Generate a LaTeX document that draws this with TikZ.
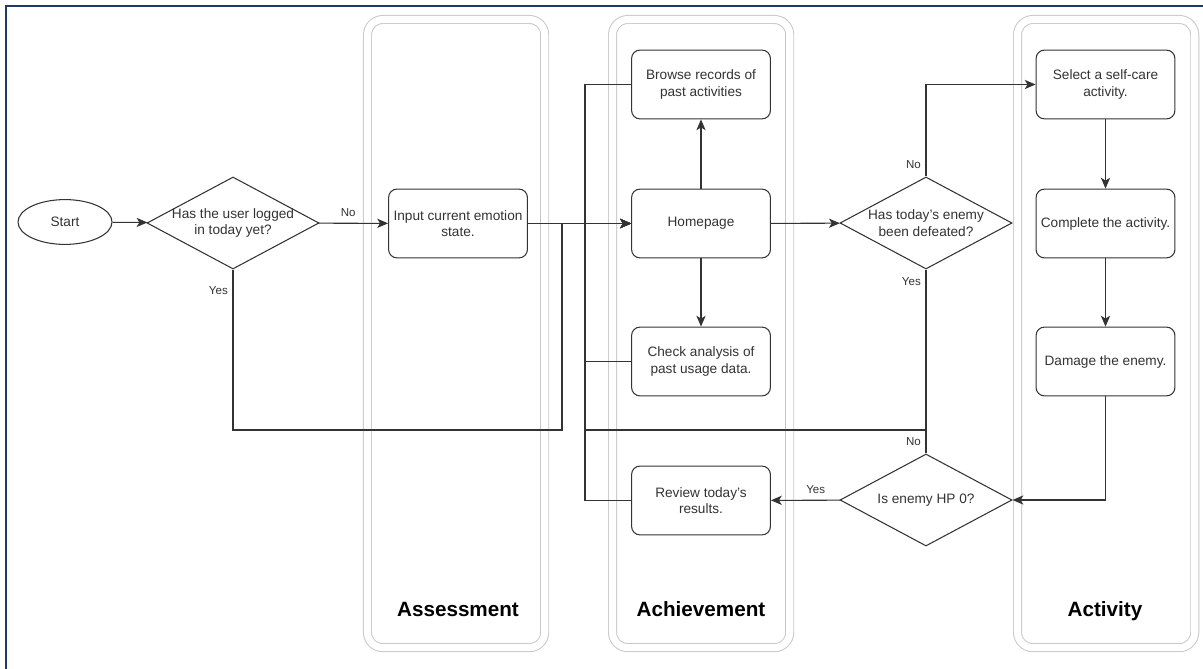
\documentclass[tikz,border=0pt]{standalone}
\usepackage{fontspec}
\setmainfont{Liberation Sans}
\usepackage{tikz}
\usetikzlibrary{arrows.meta,positioning,shapes.geometric}
\definecolor{ink}{HTML}{333333}
\definecolor{navy}{HTML}{203864}
\definecolor{lanegray}{HTML}{C8C8C8}
\tikzset{
  proc/.style={rounded corners=6pt, draw=ink, line width=0.75pt, fill=white, minimum width=3.47cm, minimum height=1.72cm, inner sep=2pt, font=\fontsize{9.7}{11.8}\selectfont, text=ink, align=center},
  terminal/.style={ellipse, draw=ink, line width=0.75pt, fill=white, minimum width=2.35cm, minimum height=1.12cm, inner sep=0pt, font=\fontsize{9.7}{11.8}\selectfont, text=ink},
  decision/.style={diamond, draw=ink, line width=0.75pt, fill=white, minimum width=4.3cm, minimum height=2.3cm, inner sep=0pt},
  dtext/.style={font=\fontsize{9.7}{11.8}\selectfont, text=ink, align=center, inner sep=0pt},
  lane/.style={rounded corners=11pt, draw=lanegray, double=white, double distance=5pt, line width=0.7pt, minimum width=4.43cm, minimum height=15.7cm, anchor=north west},
  lanetitle/.style={font=\fontsize{14.7}{17}\selectfont\bfseries, text=black, anchor=base},
  flow/.style={-{Stealth[length=2.7mm,width=2.3mm,inset=0.7mm]}, line width=0.75pt, draw=ink},
  tag/.style={font=\fontsize{8.2}{9.5}\selectfont, text=ink},
}

\begin{document}
\begin{tikzpicture}[x=0.025cm,y=-0.025cm]
  \useasboundingbox (0,0) rectangle (1203,669);
  \clip (0,0) rectangle (1203,669);
  \fill[white] (0,0) rectangle (1203,669);
  % frame
  \draw[navy, line width=1.8pt] (6,6) rectangle (1230,700);
  % lanes
  \node[lane] (asm) at (367,19) {};
  \node[lane] (ach) at (612,19) {};
  \node[lane] (act) at (1017,19) {};
  \node[lanetitle] (asmt) at (458,616) {Assessment};
  \node[lanetitle] (acht) at (701,616) {Achievement};
  \node[lanetitle] (actt) at (1105,616) {Activity};
  % start + login check
  \node[terminal] (start) at (65,222) {Start};
  \node[decision, label={[dtext]center:Has the user logged\\in today yet?}] (d1) at (233,223) {};
  % assessment
  \node[proc] (input) at (458,223.5) {Input current emotion\\state.};
  % achievement
  \node[proc] (browse) at (701,84.5) {Browse records of\\past activities};
  \node[proc] (home) at (701,223.5) {Homepage};
  \node[proc] (check) at (701,361.5) {Check analysis of\\past usage data.};
  \node[proc] (review) at (701,500.5) {Review today's\\results.};
  % decisions
  \node[decision, label={[dtext]center:Has today's enemy\\been defeated?}] (d2) at (926,223) {};
  \node[decision, label={[dtext]center:Is enemy HP 0?}] (d3) at (926,500) {};
  % activity
  \node[proc] (select) at (1105.5,84.5) {Select a self-care\\activity.};
  \node[proc] (complete) at (1105.5,223.5) {Complete the activity.};
  \node[proc] (damage) at (1105.5,361.5) {Damage the enemy.};
  % bends
  \coordinate (yesbend) at (562,430);
  \coordinate (bus) at (585,223.5);
  \coordinate (low) at (585,430);

  \draw[flow] (start) -- (d1);
  \draw[flow] (d1) -- node[tag, above=1pt, pos=0.42]{No} (input);
  \draw[flow] (d1.south) |- node[tag, left, pos=0.065]{Yes} (yesbend) |- (home.west);
  \draw[flow] (input) -- (home);
  \draw[flow] (home) -- (browse);
  \draw[flow] (home) -- (check);
  \draw[flow] (browse.west) -| (bus) -- (home.west);
  \draw[flow] (check.west) -| (bus) -- (home.west);
  \draw[flow] (review.west) -| (bus) -- (home.west);
  \draw[flow] (home) -- (d2);
  \draw[flow] (d2.north) |- node[tag, left, pos=0.065]{No} (select);
  \draw[flow] (d2.south) |- node[tag, left, pos=0.037]{Yes} (low) -- (bus) -- (home.west);
  \draw[flow] (select) -- (complete);
  \draw[flow] (complete) -- (damage);
  \draw[flow] (damage.south) |- (d3.east);
  \draw[flow] (d3.north) |- node[tag, left, pos=0.25]{No} (low) -- (bus) -- (home.west);
  \draw[flow] (d3) -- node[tag, above=1pt, pos=0.35]{Yes} (review);
\end{tikzpicture}
\end{document}
